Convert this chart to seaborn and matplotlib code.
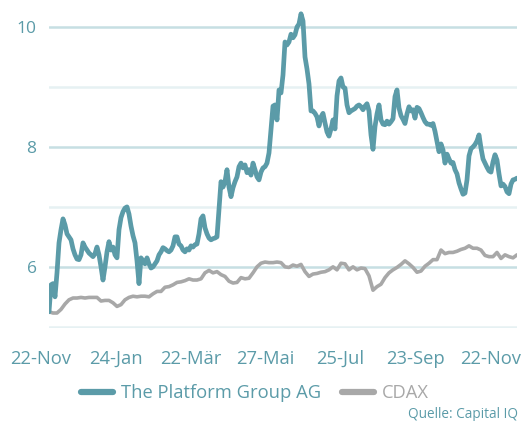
import numpy as np
import matplotlib
matplotlib.use("Agg")
import matplotlib.pyplot as plt
import matplotlib.transforms as mtransforms
from matplotlib.lines import Line2D
import seaborn as sns

# daily closes (EUR), 22-Nov-2023 .. 22-Nov-2024
tpg_close = [
    5.25, 5.7, 5.72, 5.5, 5.9, 6.4, 6.62, 6.8, 6.7, 6.55,
    6.5, 6.45, 6.3, 6.2, 6.13, 6.12, 6.2, 6.4, 6.33, 6.28,
    6.23, 6.2, 6.17, 6.22, 6.33, 6.2, 6.0, 5.78, 6.0, 6.25,
    6.42, 6.28, 6.33, 6.2, 6.15, 6.62, 6.82, 6.92, 6.98, 7.0,
    6.88, 6.68, 6.52, 6.4, 6.1, 5.72, 6.15, 6.1, 6.05, 6.15,
    6.05, 5.98, 6.0, 6.05, 6.1, 6.2, 6.25, 6.32, 6.3, 6.27,
    6.25, 6.28, 6.35, 6.5, 6.5, 6.38, 6.35, 6.28, 6.25, 6.3,
    6.28, 6.35, 6.33, 6.37, 6.38, 6.55, 6.8, 6.85, 6.65, 6.55,
    6.48, 6.45, 6.47, 6.48, 6.5, 6.95, 7.42, 7.33, 7.42, 7.62,
    7.33, 7.17, 7.32, 7.42, 7.5, 7.67, 7.73, 7.65, 7.7, 7.57,
    7.62, 7.53, 7.73, 7.62, 7.5, 7.45, 7.58, 7.65, 7.67, 7.73,
    7.9, 8.3, 8.68, 8.7, 8.45, 8.95, 8.9, 9.2, 9.75, 9.7,
    9.75, 9.88, 9.82, 9.87, 10.0, 10.05, 10.22, 10.1, 9.5, 9.3,
    9.05, 8.6, 8.6, 8.56, 8.5, 8.35, 8.5, 8.56, 8.4, 8.25,
    8.18, 8.3, 8.45, 8.3, 8.85, 9.1, 9.15, 9.0, 8.98, 8.7,
    8.57, 8.6, 8.62, 8.64, 8.68, 8.7, 8.67, 8.62, 8.68, 8.72,
    8.6, 8.2, 7.96, 8.34, 8.55, 8.7, 8.45, 8.38, 8.37, 8.43,
    8.38, 8.42, 8.47, 8.84, 8.95, 8.65, 8.52, 8.46, 8.39, 8.55,
    8.67, 8.6, 8.62, 8.48, 8.66, 8.64, 8.57, 8.49, 8.42, 8.38,
    8.38, 8.36, 8.39, 8.26, 8.09, 7.92, 8.05, 7.95, 7.73, 7.88,
    7.8, 7.73, 7.74, 7.62, 7.55, 7.4, 7.3, 7.21, 7.23, 7.45,
    7.85, 7.97, 8.0, 8.04, 8.1, 8.2, 7.98, 7.8, 7.73, 7.66,
    7.6, 7.58, 7.75, 7.87, 7.78, 7.55, 7.35, 7.38, 7.34, 7.25,
    7.22, 7.38, 7.45, 7.46, 7.48,
]

# CDAX rebased to the TPG start, every second session
cdax_close = [
    5.25, 5.23, 5.23, 5.29, 5.38, 5.45, 5.48, 5.48, 5.49, 5.48,
    5.49, 5.49, 5.49, 5.43, 5.44, 5.44, 5.40, 5.34, 5.37, 5.45,
    5.49, 5.51, 5.50, 5.51, 5.51, 5.50, 5.55, 5.59, 5.59, 5.66,
    5.67, 5.70, 5.74, 5.75, 5.77, 5.80, 5.78, 5.78, 5.80, 5.90,
    5.94, 5.90, 5.92, 5.87, 5.84, 5.76, 5.73, 5.74, 5.82, 5.80,
    5.81, 5.90, 6.00, 6.06, 6.08, 6.07, 6.07, 6.08, 6.07, 6.00,
    5.99, 6.03, 6.01, 6.04, 5.92, 5.84, 5.88, 5.89, 5.91, 5.92,
    5.95, 6.00, 5.95, 6.06, 6.05, 5.95, 6.00, 5.95, 5.98, 5.97,
    5.85, 5.61, 5.67, 5.71, 5.82, 5.90, 5.95, 5.99, 6.04, 6.10,
    6.05, 5.99, 5.91, 5.93, 6.01, 6.06, 6.12, 6.12, 6.28, 6.22,
    6.24, 6.24, 6.26, 6.29, 6.31, 6.35, 6.31, 6.31, 6.28, 6.19,
    6.17, 6.17, 6.24, 6.14, 6.20, 6.17, 6.15, 6.20,
]

tick_labels = ["22-Nov", "24-Jan", "22-Mär", "27-Mai", "25-Jul", "23-Sep", "22-Nov"]
y_major = [6, 8, 10]
y_minor = [5, 7, 9]
series_names = ["The Platform Group AG", "CDAX"]

teal = "#5b9ba8"
grey = "#a8a8a8"

sns.set_style("white")
plt.rcParams["font.family"] = ["Open Sans", "DejaVu Sans"]

fig = plt.figure(figsize=(5.23, 4.21), dpi=100)
ax = fig.add_axes([49 / 523, 1 - 328 / 421, (517 - 49) / 523, (328 - 9) / 421])

tpg_x = np.arange(len(tpg_close))
cdax_x = np.arange(len(cdax_close)) * 2

sns.lineplot(x=cdax_x, y=cdax_close, ax=ax, color=grey, linewidth=2.6)
sns.lineplot(x=tpg_x, y=tpg_close, ax=ax, color=teal, linewidth=3.4)

ax.set_xlim(0, len(tpg_close) - 1)
ax.set_ylim(4.98, 10.3)

# gridlines: darker at labelled values, lighter in between
ax.set_yticks(y_major)
ax.set_yticks(y_minor, minor=True)
ax.set_yticklabels([str(v) for v in y_major])
ax.grid(which="major", axis="y", color="#c6dfe3", linewidth=1.8)
ax.grid(which="minor", axis="y", color="#e6f1f3", linewidth=1.8)
ax.grid(which="major", axis="x", visible=False)
ax.set_axisbelow(True)

ax.set_xticks(np.arange(len(tick_labels)) * 37.5)
ax.set_xticklabels(tick_labels)

ax.tick_params(axis="both", which="both", length=0, labelcolor=teal)
ax.tick_params(axis="x", pad=16, labelsize=13.2)
ax.tick_params(axis="y", pad=9, labelsize=12.5)
for s in ax.spines.values():
    s.set_visible(False)
ax.set_xlabel("")
ax.set_ylabel("")

# category labels sit a bit left of the data points
shift = mtransforms.ScaledTranslation(-0.085, 0, fig.dpi_scale_trans)
for lab in ax.get_xticklabels():
    lab.set_transform(lab.get_transform() + shift)

handles = [Line2D([], [], color=teal, linewidth=4.5),
           Line2D([], [], color=grey, linewidth=4.5)]
leg = fig.legend(handles, series_names, loc="center", bbox_to_anchor=(0.4876, 0.066),
                 ncol=2, frameon=False, fontsize=13.2, handlelength=1.75,
                 handletextpad=0.42, columnspacing=1.15)
leg.get_texts()[0].set_color(teal)
leg.get_texts()[1].set_color(grey)

fig.text(518 / 523, 1 - 415 / 421, "Quelle: Capital IQ", ha="right", va="center",
         fontsize=9.8, color=teal)

fig.savefig("out.png", dpi=100)
